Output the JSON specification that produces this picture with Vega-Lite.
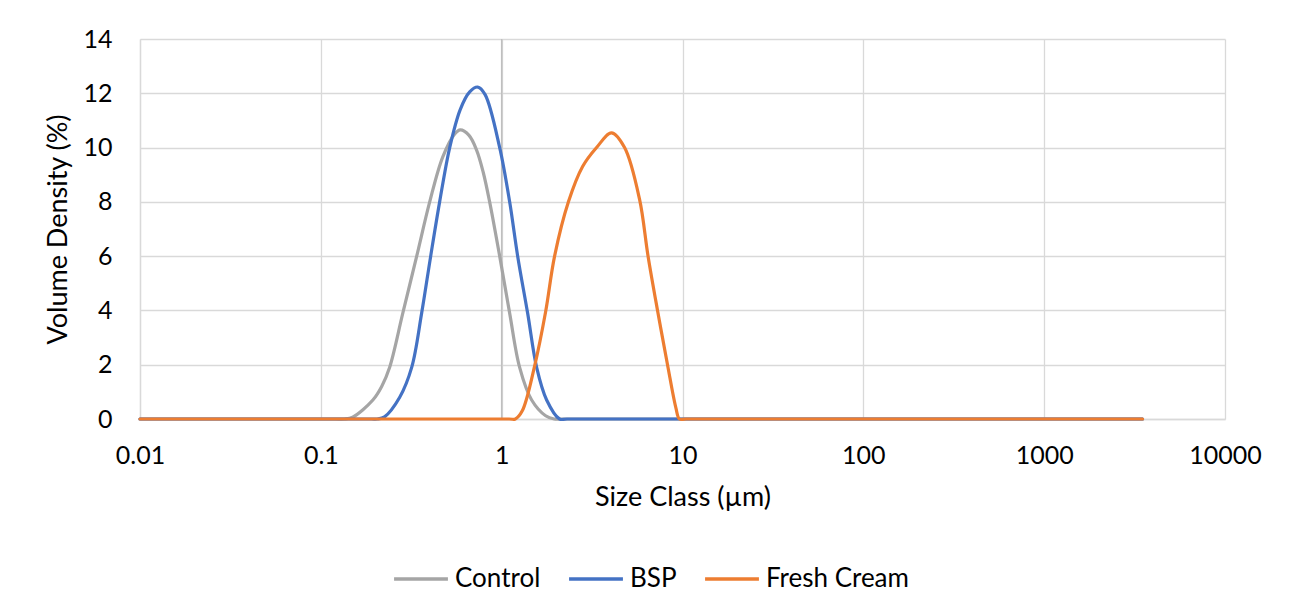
{
  "$schema": "https://vega.github.io/schema/vega-lite/v6.json",
  "width": 1085,
  "height": 380,
  "autosize": {"type": "none"},
  "padding": {"left": 140, "top": 39, "right": 66, "bottom": 194},
  "background": "white",
  "config": {
    "view": {"stroke": null},
    "font": "Lato",
    "axis": {"labelFont": "Lato", "titleFont": "Lato", "labelColor": "#000000", "titleColor": "#000000", "labelFontSize": 25, "titleFontSize": 27, "titleFontWeight": "normal", "gridColor": "#d9d9d9", "gridWidth": 1.3, "domainColor": "#d9d9d9", "domainWidth": 1.3, "ticks": false, "labelFlush": false},
    "legend": {"labelFont": "Lato", "labelFontSize": 26, "labelColor": "#000000"}
  },
  "datasets": {
    "curves": [
      {"series": "Control", "size": 0.01, "vd": 0},
      {"series": "Control", "size": 0.12, "vd": 0},
      {"series": "Control", "size": 0.135, "vd": 0},
      {"series": "Control", "size": 0.15, "vd": 0.07},
      {"series": "Control", "size": 0.194, "vd": 0.7},
      {"series": "Control", "size": 0.217, "vd": 1.2},
      {"series": "Control", "size": 0.24, "vd": 1.9},
      {"series": "Control", "size": 0.284, "vd": 3.9},
      {"series": "Control", "size": 0.339, "vd": 6.0},
      {"series": "Control", "size": 0.40, "vd": 8.0},
      {"series": "Control", "size": 0.472, "vd": 9.65},
      {"series": "Control", "size": 0.55, "vd": 10.5},
      {"series": "Control", "size": 0.59, "vd": 10.65},
      {"series": "Control", "size": 0.66, "vd": 10.45},
      {"series": "Control", "size": 0.7275, "vd": 9.9},
      {"series": "Control", "size": 0.79, "vd": 9.1},
      {"series": "Control", "size": 0.858, "vd": 8.0},
      {"series": "Control", "size": 0.975, "vd": 6.0},
      {"series": "Control", "size": 1.107, "vd": 3.9},
      {"series": "Control", "size": 1.257, "vd": 1.9},
      {"series": "Control", "size": 1.465, "vd": 0.7},
      {"series": "Control", "size": 1.75, "vd": 0.12},
      {"series": "Control", "size": 1.95, "vd": 0},
      {"series": "Control", "size": 2.2, "vd": 0},
      {"series": "Control", "size": 3500, "vd": 0},
      {"series": "BSP", "size": 0.01, "vd": 0},
      {"series": "BSP", "size": 0.19, "vd": 0},
      {"series": "BSP", "size": 0.205, "vd": 0},
      {"series": "BSP", "size": 0.225, "vd": 0.08},
      {"series": "BSP", "size": 0.273, "vd": 0.8},
      {"series": "BSP", "size": 0.318, "vd": 1.9},
      {"series": "BSP", "size": 0.361, "vd": 3.9},
      {"series": "BSP", "size": 0.405, "vd": 6.0},
      {"series": "BSP", "size": 0.454, "vd": 8.0},
      {"series": "BSP", "size": 0.516, "vd": 10.0},
      {"series": "BSP", "size": 0.59, "vd": 11.4},
      {"series": "BSP", "size": 0.6655, "vd": 12.05},
      {"series": "BSP", "size": 0.737, "vd": 12.23},
      {"series": "BSP", "size": 0.81, "vd": 11.95},
      {"series": "BSP", "size": 0.975, "vd": 10.0},
      {"series": "BSP", "size": 1.107, "vd": 8.0},
      {"series": "BSP", "size": 1.226, "vd": 6.0},
      {"series": "BSP", "size": 1.392, "vd": 3.9},
      {"series": "BSP", "size": 1.561, "vd": 1.9},
      {"series": "BSP", "size": 1.773, "vd": 0.7},
      {"series": "BSP", "size": 2.09, "vd": 0},
      {"series": "BSP", "size": 2.3, "vd": 0},
      {"series": "BSP", "size": 3500, "vd": 0},
      {"series": "Fresh Cream", "size": 0.01, "vd": 0},
      {"series": "Fresh Cream", "size": 1.1, "vd": 0},
      {"series": "Fresh Cream", "size": 1.19, "vd": 0},
      {"series": "Fresh Cream", "size": 1.3, "vd": 0.3},
      {"series": "Fresh Cream", "size": 1.521, "vd": 1.95},
      {"series": "Fresh Cream", "size": 1.75, "vd": 3.95},
      {"series": "Fresh Cream", "size": 1.962, "vd": 6.0},
      {"series": "Fresh Cream", "size": 2.34, "vd": 8.0},
      {"series": "Fresh Cream", "size": 2.803, "vd": 9.3},
      {"series": "Fresh Cream", "size": 3.349, "vd": 10.0},
      {"series": "Fresh Cream", "size": 4.053, "vd": 10.54},
      {"series": "Fresh Cream", "size": 4.782, "vd": 10.0},
      {"series": "Fresh Cream", "size": 5.785, "vd": 8.1},
      {"series": "Fresh Cream", "size": 6.45, "vd": 6.0},
      {"series": "Fresh Cream", "size": 7.276, "vd": 4.0},
      {"series": "Fresh Cream", "size": 8.262, "vd": 2.0},
      {"series": "Fresh Cream", "size": 9.2, "vd": 0.4},
      {"series": "Fresh Cream", "size": 9.625, "vd": 0},
      {"series": "Fresh Cream", "size": 10.5, "vd": 0},
      {"series": "Fresh Cream", "size": 3500, "vd": 0}
    ],
    "axisline": [{"size": 1}]
  },
  "layer": [
    {
      "data": {"name": "axisline"},
      "mark": {"type": "rule", "color": "#bfbfbf", "strokeWidth": 1.5},
      "encoding": {
        "x": {"field": "size", "type": "quantitative", "scale": {"type": "log", "domain": [0.01, 10000]}}
      }
    },
    {
      "data": {"name": "curves"},
      "mark": {"type": "line", "interpolate": "catmull-rom", "strokeWidth": 3.2, "strokeCap": "round"},
      "encoding": {
        "x": {
          "field": "size", "type": "quantitative",
          "scale": {"type": "log", "domain": [0.01, 10000], "nice": false},
          "axis": {"title": "Size Class (µm)", "values": [0.01, 0.1, 1, 10, 100, 1000, 10000], "format": "~g", "labelPadding": 24, "titlePadding": 16, "grid": true, "domain": true}
        },
        "y": {
          "field": "vd", "type": "quantitative",
          "scale": {"domain": [0, 14], "nice": false},
          "axis": {"title": "Volume Density (%)", "values": [0, 2, 4, 6, 8, 10, 12, 14], "labelPadding": 28, "titlePadding": 10, "grid": true, "domain": true}
        },
        "color": {
          "field": "series", "type": "nominal",
          "scale": {"domain": ["Control", "BSP", "Fresh Cream"], "range": ["#A5A5A5", "#4472C4", "#ED7D31"]},
          "legend": {"title": null, "orient": "none", "legendX": 252, "legendY": 511, "direction": "horizontal", "symbolType": "stroke", "symbolSize": 2900, "symbolStrokeWidth": 3.5, "labelOffset": 5, "columnPadding": 21, "padding": 0, "labelLimit": 300}
        },
        "order": {"field": "series", "sort": "ascending"}
      }
    }
  ]
}
